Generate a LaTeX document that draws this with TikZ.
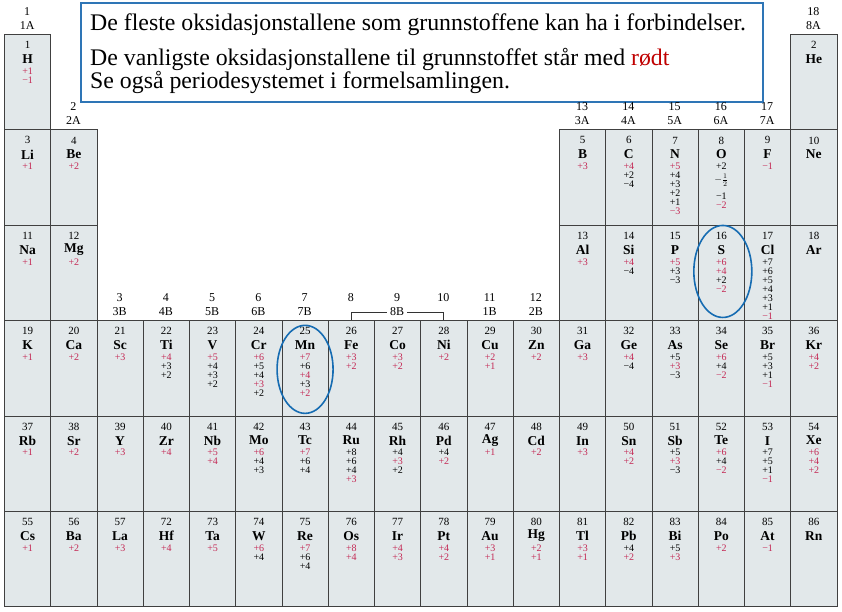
\documentclass[tikz,border=0pt]{standalone}
\usepackage{amsmath}
\usepackage{fontspec}
\setmainfont{Liberation Serif}
\usepackage{xcolor}
\usetikzlibrary{positioning,calc}

\definecolor{cellgray}{RGB}{226,232,234}
\definecolor{oxred}{RGB}{196,40,84}
\definecolor{boxblue}{RGB}{46,117,182}
\definecolor{ringblue}{RGB}{22,108,178}
\definecolor{textred}{RGB}{192,0,0}
\newcommand{\R}[1]{\textcolor{oxred}{#1}}
\newcommand{\half}{$-\genfrac{}{}{0.4pt}{1}{1}{2}$}

\tikzset{
  cellbox/.style={draw=black!75, fill=cellgray, line width=0.9pt, minimum width=46.25pt,
    minimum height=95.4pt, inner sep=0pt, anchor=north west},
  znum/.style={font=\fontsize{11}{11}\selectfont, inner sep=0pt},
  sym/.style={font=\fontsize{13.5}{13.5}\selectfont\bfseries, inner sep=0pt},
  ox/.style={font=\fontsize{10}{9}\selectfont, inner sep=0pt, align=center, anchor=north},
  grp/.style={font=\fontsize{12}{12}\selectfont, inner sep=0pt},
  head/.style={font=\fontsize{23.8}{23}\selectfont, inner sep=0pt, anchor=base west},
  ring/.style={draw=ringblue, line width=1.6pt},
}

\begin{document}
\begin{tikzpicture}[x=1pt,y=-1pt]
  \useasboundingbox (0,0) rectangle (842,611);

  % Note
  \node[draw=boxblue, fill=white, line width=1.5pt, minimum width=682pt, minimum height=99pt,
    inner sep=0pt, anchor=north west] (note) at (80,2) {};
  \node[head] (l1) at (90,30) {De fleste oksidasjonstallene som grunnstoffene kan ha i forbindelser.};
  \node[head] (l2) at (90,65) {De vanligste oksidasjonstallene til grunnstoffet står med \textcolor{textred}{rødt}};
  \node[head] (l3) at (90,88) {Se også periodesystemet i formelsamlingen.};

  % Groups
  \foreach \c/\a/\b/\y in {1/1/1A/12, 2/2/2A/107, 13/13/3A/107, 14/14/4A/107, 15/15/5A/107,
      16/16/6A/107, 17/17/7A/107, 18/18/8A/12, 3/3/3B/298, 4/4/4B/298, 5/5/5B/298,
      6/6/6B/298, 7/7/7B/298, 11/11/1B/298, 12/12/2B/298}
  {
    \node[grp] (g\a) at ({4+(\c-0.5)*46.25},\y) {\a};
    \node[grp] (g\b) at ({4+(\c-0.5)*46.25},{\y+14}) {\b};
  }
  \foreach \c in {8, 9, 10}
    \node[grp] (g\c) at ({4+(\c-0.5)*46.25},298) {\c};
  \node[grp, inner xsep=3pt] (g8B) at ({4+8.5*46.25},312) {8B};

  % Elements
  \foreach \c/\r/\z/\s/\o in {
    1/1/1/H/{\R{+1}\\\R{−1}},
    18/1/2/He/{},
    1/2/3/Li/{\R{+1}},
    2/2/4/Be/{\R{+2}},
    13/2/5/B/{\R{+3}},
    14/2/6/C/{\R{+4}\\+2\\−4},
    15/2/7/N/{\R{+5}\\+4\\+3\\+2\\+1\\\R{−3}},
    16/2/8/O/{+2\\[4pt]\half\\[6pt]−1\\\R{−2}},
    17/2/9/F/{\R{−1}},
    18/2/10/Ne/{},
    1/3/11/Na/{\R{+1}},
    2/3/12/Mg/{\R{+2}},
    13/3/13/Al/{\R{+3}},
    14/3/14/Si/{\R{+4}\\−4},
    15/3/15/P/{\R{+5}\\+3\\−3},
    16/3/16/S/{\R{+6}\\\R{+4}\\+2\\\R{−2}},
    17/3/17/Cl/{+7\\+6\\+5\\+4\\+3\\+1\\\R{−1}},
    18/3/18/Ar/{},
    1/4/19/K/{\R{+1}},
    2/4/20/Ca/{\R{+2}},
    3/4/21/Sc/{\R{+3}},
    4/4/22/Ti/{\R{+4}\\+3\\+2},
    5/4/23/V/{\R{+5}\\+4\\+3\\+2},
    6/4/24/Cr/{\R{+6}\\+5\\+4\\\R{+3}\\+2},
    7/4/25/Mn/{\R{+7}\\+6\\\R{+4}\\+3\\\R{+2}},
    8/4/26/Fe/{\R{+3}\\\R{+2}},
    9/4/27/Co/{\R{+3}\\\R{+2}},
    10/4/28/Ni/{\R{+2}},
    11/4/29/Cu/{\R{+2}\\\R{+1}},
    12/4/30/Zn/{\R{+2}},
    13/4/31/Ga/{\R{+3}},
    14/4/32/Ge/{\R{+4}\\−4},
    15/4/33/As/{+5\\\R{+3}\\−3},
    16/4/34/Se/{\R{+6}\\+4\\\R{−2}},
    17/4/35/Br/{+5\\+3\\+1\\\R{−1}},
    18/4/36/Kr/{\R{+4}\\\R{+2}},
    1/5/37/Rb/{\R{+1}},
    2/5/38/Sr/{\R{+2}},
    3/5/39/Y/{\R{+3}},
    4/5/40/Zr/{\R{+4}},
    5/5/41/Nb/{\R{+5}\\\R{+4}},
    6/5/42/Mo/{\R{+6}\\+4\\+3},
    7/5/43/Tc/{\R{+7}\\+6\\+4},
    8/5/44/Ru/{+8\\+6\\+4\\\R{+3}},
    9/5/45/Rh/{+4\\\R{+3}\\+2},
    10/5/46/Pd/{+4\\\R{+2}},
    11/5/47/Ag/{\R{+1}},
    12/5/48/Cd/{\R{+2}},
    13/5/49/In/{\R{+3}},
    14/5/50/Sn/{\R{+4}\\\R{+2}},
    15/5/51/Sb/{+5\\\R{+3}\\−3},
    16/5/52/Te/{\R{+6}\\+4\\\R{−2}},
    17/5/53/I/{+7\\+5\\+1\\\R{−1}},
    18/5/54/Xe/{\R{+6}\\\R{+4}\\\R{+2}},
    1/6/55/Cs/{\R{+1}},
    2/6/56/Ba/{\R{+2}},
    3/6/57/La/{\R{+3}},
    4/6/72/Hf/{\R{+4}},
    5/6/73/Ta/{\R{+5}},
    6/6/74/W/{\R{+6}\\+4},
    7/6/75/Re/{\R{+7}\\+6\\+4},
    8/6/76/Os/{\R{+8}\\\R{+4}},
    9/6/77/Ir/{\R{+4}\\\R{+3}},
    10/6/78/Pt/{\R{+4}\\\R{+2}},
    11/6/79/Au/{\R{+3}\\\R{+1}},
    12/6/80/Hg/{\R{+2}\\\R{+1}},
    13/6/81/Tl/{\R{+3}\\\R{+1}},
    14/6/82/Pb/{+4\\\R{+2}},
    15/6/83/Bi/{+5\\\R{+3}},
    16/6/84/Po/{\R{+2}},
    17/6/85/At/{\R{−1}},
    18/6/86/Rn/{}}
  {
    \node[cellbox] (\s) at ({4+(\c-1)*46.25},{34+(\r-1)*95.4}) {};
    \node[znum] (z\z) at ($(\s.north)+(0,11)$) {\z};
    \node[sym] (s\z) at ($(\s.north)+(0,25)$) {\s};
    \node[ox] (o\z) at ($(\s.north)+(0,33.5)$) {\o};
  }

  % 8B bracket
  \draw[line width=0.8pt, black!80] (Fe.north) |- (g8B.west);
  \draw[line width=0.8pt, black!80] (Ni.north) |- (g8B.east);

  % Rings
  \draw[ring] ($(Mn.center)+(0,1)$) ellipse [x radius=28, y radius=44];
  \draw[ring] ($(S.center)+(1.5,-1.5)$) ellipse [x radius=29, y radius=46];
\end{tikzpicture}
\end{document}
